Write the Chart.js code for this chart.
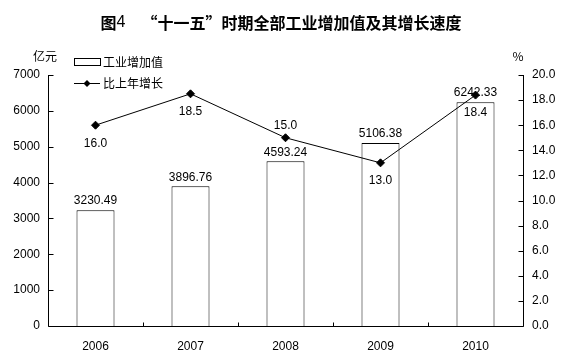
<!DOCTYPE html>
<html><head><meta charset="utf-8">
<script src="https://cdn.jsdelivr.net/npm/chart.js@4.4.1/dist/chart.umd.min.js"></script>
<style>html,body{margin:0;padding:0;background:#fff}#wrap{width:565px;height:360px}</style>
</head><body><div id="wrap"><canvas id="c" width="565" height="360"></canvas></div>
<script>
const categories = ['2006', '2007', '2008', '2009', '2010'];
const valueAdded = [3230.49, 3896.76, 4593.24, 5106.38, 6242.33];
const growthRate = [16.0, 18.5, 15.0, 13.0, 18.4];
const leftTicks = [0, 1000, 2000, 3000, 4000, 5000, 6000, 7000];
const rightTicks = [0, 2, 4, 6, 8, 10, 12, 14, 16, 18, 20];
const growthLabelBelow = [true, true, false, true, true];

const titleParts = [['图', true], ['4　', false], ['“十一五”时期全部工业增加值及其增长速度', true]];
const barLegend = '工业增加值';
const lineLegend = '比上年增长';
const leftUnit = '亿元';
const rightUnit = '%';

const numFont = '12px "Liberation Sans", Arial, sans-serif';
const cjkFont = '12px "Noto Sans CJK SC", sans-serif';

const decor = {
  id: 'decor',
  afterDraw(chart) {
    const ctx = chart.ctx;
    const x = chart.scales.x, yl = chart.scales.yL, yr = chart.scales.yR;
    const area = chart.chartArea;
    ctx.save();
    ctx.strokeStyle = '#000';
    ctx.lineWidth = 1;
    ctx.beginPath();
    const L = Math.round(area.left) + 0.5, R = Math.round(area.right) + 0.5, B = Math.round(area.bottom) + 0.5, T = Math.round(area.top);
    ctx.moveTo(L, T); ctx.lineTo(L, B); ctx.lineTo(R, B); ctx.lineTo(R, T);
    leftTicks.forEach(v => { const py = Math.round(yl.getPixelForValue(v)) + 0.5; ctx.moveTo(L, py); ctx.lineTo(L + 5, py); });
    rightTicks.forEach(v => { const py = Math.round(yr.getPixelForValue(v)) + 0.5; ctx.moveTo(R, py); ctx.lineTo(R - 5, py); });
    for (let i = 0; i < categories.length - 1; i++) {
      const px = Math.round((x.getPixelForValue(i) + x.getPixelForValue(i + 1)) / 2) + 0.5;
      ctx.moveTo(px, B); ctx.lineTo(px, B - 4);
    }
    ctx.stroke();

    // title
    ctx.fillStyle = '#000';
    ctx.textBaseline = 'middle';
    ctx.textAlign = 'left';
    const boldF = 'bold 16px "Noto Sans CJK SC", sans-serif';
    const normF = '16px "Liberation Sans", Arial, sans-serif';
    let total = 0;
    titleParts.forEach(([t, b]) => { ctx.font = b ? boldF : normF; total += ctx.measureText(t).width; });
    let tx = 281 - total / 2;
    titleParts.forEach(([t, b]) => { ctx.font = b ? boldF : normF; ctx.fillText(t, tx, 23); tx += ctx.measureText(t).width; });

    ctx.textAlign = 'center';
    ctx.font = cjkFont;
    ctx.fillText(leftUnit, 45, 56);
    ctx.fillText(rightUnit, 518, 56);

    // legend
    ctx.textAlign = 'left';
    ctx.strokeRect(74.5, 58.5, 26, 7);
    ctx.fillText(barLegend, 103, 62);
    ctx.beginPath(); ctx.moveTo(74, 83.5); ctx.lineTo(100, 83.5); ctx.stroke();
    ctx.beginPath(); ctx.moveTo(87, 80); ctx.lineTo(90.5, 83.5); ctx.lineTo(87, 87); ctx.lineTo(83.5, 83.5); ctx.closePath(); ctx.fill();
    ctx.fillText(lineLegend, 103, 83);

    // data labels
    ctx.font = numFont;
    ctx.textAlign = 'center';
    chart.getDatasetMeta(0).data.forEach((el, i) => {
      ctx.fillText(valueAdded[i].toFixed(2), el.x, el.y - 9);
    });
    chart.getDatasetMeta(1).data.forEach((el, i) => {
      const dy = growthLabelBelow[i] ? 18 : -12;
      ctx.fillText(growthRate[i].toFixed(1), el.x, el.y + dy);
    });
    ctx.restore();
  }
};

const tickFont = { family: '"Liberation Sans", Arial, sans-serif', size: 12 };
new Chart(document.getElementById('c'), {
  data: {
    labels: categories,
    datasets: [
      { type: 'bar', label: barLegend, data: valueAdded, yAxisID: 'yL',
        backgroundColor: '#fff', borderColor: '#000', borderWidth: 1,
        categoryPercentage: 1, barPercentage: 0.4, order: 2 },
      { type: 'line', label: lineLegend, data: growthRate, yAxisID: 'yR',
        borderColor: '#000', borderWidth: 1, backgroundColor: '#000',
        pointStyle: 'rectRot', pointRadius: 4, pointHoverRadius: 4, tension: 0, order: 1 }
    ]
  },
  options: {
    responsive: false, animation: false, devicePixelRatio: 1,
    layout: { padding: { top: 75, bottom: 0, left: 0, right: 0 } },
    plugins: { legend: { display: false }, tooltip: { enabled: false }, title: { display: false } },
    scales: {
      x: { offset: true, grid: { display: false, drawTicks: false }, border: { display: false },
        ticks: { color: '#000', font: tickFont, padding: 13 },
        afterFit(s) { s.height = 34; } },
      yL: { position: 'left', min: 0, max: 7000, grid: { display: false, drawTicks: false }, border: { display: false },
        afterBuildTicks(s) { s.ticks = leftTicks.map(v => ({ value: v })); },
        ticks: { color: '#000', font: tickFont, padding: 8, callback: v => String(v) },
        afterFit(s) { s.width = 48; } },
      yR: { position: 'right', min: 0, max: 20, grid: { display: false, drawTicks: false }, border: { display: false },
        afterBuildTicks(s) { s.ticks = rightTicks.map(v => ({ value: v })); },
        ticks: { color: '#000', font: tickFont, padding: 9, callback: v => Number(v).toFixed(1) },
        afterFit(s) { s.width = 42; } }
    }
  },
  plugins: [decor]
});
</script></body></html>
